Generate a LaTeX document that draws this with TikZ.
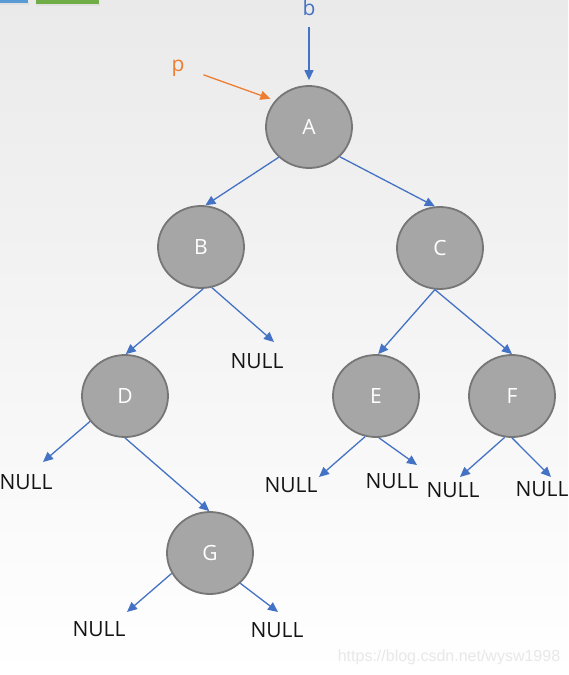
\documentclass[tikz,border=0pt]{standalone}
\usepackage{fontspec}
\setmainfont{Open Sans}
\setsansfont{Liberation Sans}
\usepackage{xcolor}
\usepackage{tikz}
\usetikzlibrary{arrows.meta, shapes.geometric, positioning}

\definecolor{nodegray}{RGB}{166,166,166}
\definecolor{rimgray}{RGB}{118,118,118}
\definecolor{linkblue}{RGB}{68,114,196}
\definecolor{ptrorange}{RGB}{237,125,49}
\definecolor{barblue}{RGB}{91,155,213}
\definecolor{bargreen}{RGB}{112,173,71}
\definecolor{bggray}{RGB}{234,234,234}
\definecolor{nulltext}{RGB}{20,20,20}

\begin{document}
\begin{tikzpicture}[
            x=0.5pt, y=-0.5pt,
            treenode/.style={ellipse, draw=rimgray, line width=0.9pt, fill=nodegray, minimum width=43pt, minimum height=41pt, inner sep=0pt, text=white, font=\fontsize{10.5}{12}\selectfont},
            nullnode/.style={inner sep=0pt, text=nulltext, font=\fontsize{10.5}{12}\selectfont},
            link/.style={-{Triangle[length=5pt,width=4.5pt]}, line width=0.65pt, draw=linkblue},
            pointer/.style={-{Triangle[length=5pt,width=4.5pt]}, line width=0.65pt, draw=ptrorange}
        ]

        % Background
        \shade[top color=bggray, bottom color=white] (0,0) rectangle (568,675);
        \useasboundingbox (0,0) rectangle (568,675);
        \fill[black!12] (0,2) rectangle (29,4.5);
        \fill[black!12] (36,3) rectangle (100,5.5);
        \fill[barblue] (0,0) rectangle (28,2.5);
        \fill[bargreen] (36,0) rectangle (99,3.5);

        % Tree
        \node[treenode] (A) at (309,127) {A};
        \node[treenode] (B) at (201,247) {B};
        \node[treenode] (C) at (440,248) {C};
        \node[treenode] (D) at (125,396) {D};
        \node[treenode] (E) at (376,396) {E};
        \node[treenode] (F) at (512,396) {F};
        \node[treenode] (G) at (210,553) {G};

        % Empty children
        \node[nullnode] (nB) at (257,361) {NULL};
        \node[nullnode] (nD) at (26,482) {NULL};
        \node[nullnode] (nE1) at (291,485) {NULL};
        \node[nullnode] (nE2) at (392,481) {NULL};
        \node[nullnode] (nF1) at (453,490) {NULL};
        \node[nullnode] (nF2) at (542,489) {NULL};
        \node[nullnode] (nG1) at (99,629) {NULL};
        \node[nullnode] (nG2) at (277,630) {NULL};

        % Pointers
        \node[anchor=base, text=linkblue, font=\fontsize{10.5}{12}\selectfont] (b) at (309,15) {b};
        \node[anchor=base, text=ptrorange, font=\fontsize{10.5}{12}\selectfont] (p) at (178,71) {p};
        \draw[link, shorten <=2.5pt, shorten >=2.5pt] (b) -- (A);
        \draw[pointer, shorten >=2.5pt] ([shift={(12,7)}]p.east) -- (A.142);

        % Links
        \draw[link] (A.225) -- (B.84);
        \draw[link] (A.316) -- (C.97);
        \draw[link] (B.273) -- (D.89);
        \draw[link] (B.285) -- ([shift={(17,-19)}]nB.center);
        \draw[link] (C.263) -- (E.87);
        \draw[link] (C.263) -- (F.90);
        \draw[link] (D.216) -- ([shift={(17,-20)}]nD.center);
        \draw[link] (D.270) -- (G.91);
        \draw[link] (E.255) -- ([shift={(28,-8)}]nE1.center);
        \draw[link] (E.274) -- ([shift={(25,-16)}]nE2.center);
        \draw[link] (F.260) -- ([shift={(7,-13)}]nF1.center);
        \draw[link] (F.270) -- ([shift={(9,-12)}]nF2.center);
        \draw[link] (G.208) -- ([shift={(28,-17)}]nG1.center);
        \draw[link] (G.315) -- ([shift={(1,-18)}]nG2.center);

        % Watermark
        \node[text=black!9, font=\sffamily\fontsize{8}{9}\selectfont] (mark) at (449,657) {https://blog.csdn.net/wysw1998};

    \end{tikzpicture}
\end{document}
